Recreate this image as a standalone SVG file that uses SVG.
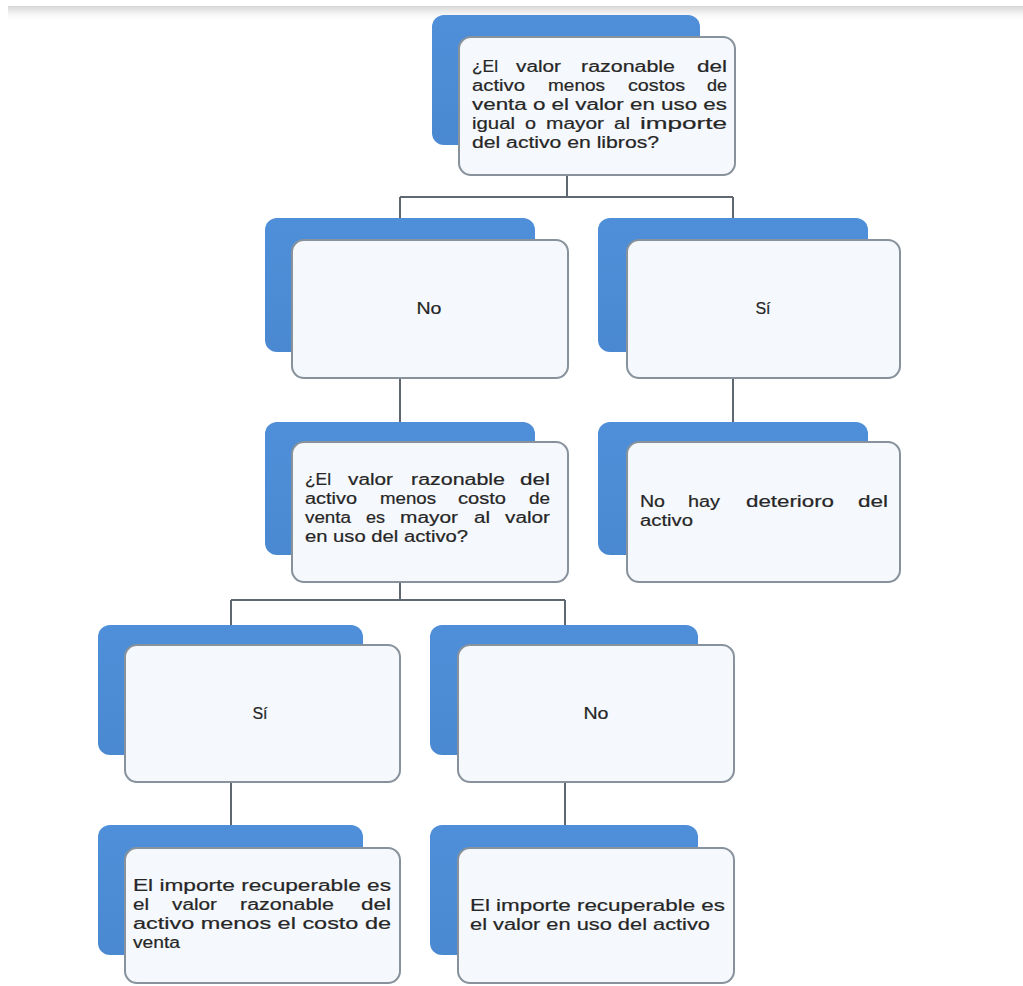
<svg xmlns="http://www.w3.org/2000/svg" width="1023" height="986" viewBox="0 0 1023 986">
<defs>
<linearGradient id="topband" x1="0" y1="0" x2="0" y2="1">
<stop offset="0" stop-color="#d6d6d6"/>
<stop offset="0.25" stop-color="#e6e6e6"/>
<stop offset="1" stop-color="#ffffff" stop-opacity="0"/>
</linearGradient>
<linearGradient id="blue" x1="0" y1="0" x2="0" y2="1">
<stop offset="0" stop-color="#4f8fd9"/>
<stop offset="1" stop-color="#4a89d2"/>
</linearGradient>
</defs>
<style>
.back{fill:url(#blue);}
.front{fill:#f5f8fc;stroke:#87929c;stroke-width:2;}
.conn{fill:none;stroke:#5f6870;stroke-width:2;}
text{font-family:"Liberation Sans",Arial,sans-serif;font-size:16px;fill:#262626;stroke:#262626;stroke-width:0.2;}
.c{text-anchor:middle;}
</style>
<rect x="0" y="0" width="1023" height="986" fill="#ffffff"/>
<rect x="8" y="6" width="1015" height="16" fill="url(#topband)"/>

<g id="connectors">
<path class="conn" d="M567 175 V197 M400 197 H733 M400 197 V218 M733 197 V218"/>
<path class="conn" d="M400 378 V422 M733 378 V422"/>
<path class="conn" d="M400 582 V600 M231 600 H565 M231 600 V625 M565 600 V625"/>
<path class="conn" d="M231 782 V825 M565 782 V825"/>
</g>

<g id="n1">
<rect class="back" x="432" y="15" width="268" height="130" rx="12"/>
<rect class="front" x="459" y="37" width="276" height="138" rx="12"/>
<text x="472" y="72" textLength="26" lengthAdjust="spacingAndGlyphs">¿El</text>
<text x="516" y="72" textLength="45" lengthAdjust="spacingAndGlyphs">valor</text>
<text x="581" y="72" textLength="94" lengthAdjust="spacingAndGlyphs">razonable</text>
<text x="697" y="72" textLength="30" lengthAdjust="spacingAndGlyphs">del</text>
<text x="472" y="91" textLength="53" lengthAdjust="spacingAndGlyphs">activo</text>
<text x="548" y="91" textLength="57" lengthAdjust="spacingAndGlyphs">menos</text>
<text x="628" y="91" textLength="57" lengthAdjust="spacingAndGlyphs">costos</text>
<text x="707" y="91" textLength="20" lengthAdjust="spacingAndGlyphs">de</text>
<text x="472" y="110" textLength="255" lengthAdjust="spacingAndGlyphs">venta o el valor en uso es</text>
<text x="472" y="129" textLength="43" lengthAdjust="spacingAndGlyphs">igual</text>
<text x="525" y="129" textLength="11" lengthAdjust="spacingAndGlyphs">o</text>
<text x="546" y="129" textLength="58" lengthAdjust="spacingAndGlyphs">mayor</text>
<text x="614" y="129" textLength="16" lengthAdjust="spacingAndGlyphs">al</text>
<text x="640" y="129" textLength="87" lengthAdjust="spacingAndGlyphs">importe</text>
<text x="472" y="148" textLength="187" lengthAdjust="spacingAndGlyphs">del activo en libros?</text>
</g>

<g id="n2">
<rect class="back" x="265" y="218" width="270" height="134" rx="12"/>
<rect class="front" x="292" y="240" width="276" height="138" rx="12"/>
<text class="c" x="429" y="314" textLength="25" lengthAdjust="spacingAndGlyphs">No</text>
</g>

<g id="n3">
<rect class="back" x="598" y="218" width="270" height="134" rx="12"/>
<rect class="front" x="627" y="240" width="273" height="138" rx="12"/>
<text class="c" x="763" y="314">Sí</text>
</g>

<g id="n4">
<rect class="back" x="265" y="422" width="270" height="133" rx="12"/>
<rect class="front" x="292" y="442" width="276" height="140" rx="12"/>
<text x="305" y="485" textLength="26" lengthAdjust="spacingAndGlyphs">¿El</text>
<text x="348" y="485" textLength="45" lengthAdjust="spacingAndGlyphs">valor</text>
<text x="411" y="485" textLength="94" lengthAdjust="spacingAndGlyphs">razonable</text>
<text x="520" y="485" textLength="30" lengthAdjust="spacingAndGlyphs">del</text>
<text x="305" y="504" textLength="52" lengthAdjust="spacingAndGlyphs">activo</text>
<text x="380" y="504" textLength="56" lengthAdjust="spacingAndGlyphs">menos</text>
<text x="458" y="504" textLength="48" lengthAdjust="spacingAndGlyphs">costo</text>
<text x="529" y="504" textLength="21" lengthAdjust="spacingAndGlyphs">de</text>
<text x="305" y="523" textLength="46" lengthAdjust="spacingAndGlyphs">venta</text>
<text x="366" y="523" textLength="19" lengthAdjust="spacingAndGlyphs">es</text>
<text x="400" y="523" textLength="58" lengthAdjust="spacingAndGlyphs">mayor</text>
<text x="474" y="523" textLength="16" lengthAdjust="spacingAndGlyphs">al</text>
<text x="505" y="523" textLength="45" lengthAdjust="spacingAndGlyphs">valor</text>
<text x="305" y="542" textLength="163" lengthAdjust="spacingAndGlyphs">en uso del activo?</text>
</g>

<g id="n5">
<rect class="back" x="598" y="422" width="270" height="133" rx="12"/>
<rect class="front" x="627" y="442" width="273" height="140" rx="12"/>
<text x="640" y="507" textLength="25" lengthAdjust="spacingAndGlyphs">No</text>
<text x="688" y="507" textLength="32" lengthAdjust="spacingAndGlyphs">hay</text>
<text x="746" y="507" textLength="88" lengthAdjust="spacingAndGlyphs">deterioro</text>
<text x="858" y="507" textLength="30" lengthAdjust="spacingAndGlyphs">del</text>
<text x="640" y="526" textLength="53" lengthAdjust="spacingAndGlyphs">activo</text>
</g>

<g id="n6">
<rect class="back" x="98" y="625" width="265" height="130" rx="12"/>
<rect class="front" x="125" y="645" width="275" height="137" rx="12"/>
<text class="c" x="260" y="719">Sí</text>
</g>

<g id="n7">
<rect class="back" x="430" y="625" width="268" height="130" rx="12"/>
<rect class="front" x="458" y="645" width="276" height="137" rx="12"/>
<text class="c" x="596" y="719" textLength="25" lengthAdjust="spacingAndGlyphs">No</text>
</g>

<g id="n8">
<rect class="back" x="98" y="825" width="265" height="130" rx="12"/>
<rect class="front" x="125" y="848" width="275" height="135" rx="12"/>
<text x="133" y="891" textLength="258" lengthAdjust="spacingAndGlyphs">El importe recuperable es</text>
<text x="133" y="910" textLength="16" lengthAdjust="spacingAndGlyphs">el</text>
<text x="172" y="910" textLength="45" lengthAdjust="spacingAndGlyphs">valor</text>
<text x="240" y="910" textLength="94" lengthAdjust="spacingAndGlyphs">razonable</text>
<text x="361" y="910" textLength="30" lengthAdjust="spacingAndGlyphs">del</text>
<text x="133" y="929" textLength="258" lengthAdjust="spacingAndGlyphs">activo menos el costo de</text>
<text x="133" y="948" textLength="47" lengthAdjust="spacingAndGlyphs">venta</text>
</g>

<g id="n9">
<rect class="back" x="430" y="825" width="268" height="130" rx="12"/>
<rect class="front" x="458" y="848" width="276" height="135" rx="12"/>
<text x="470" y="911" textLength="255" lengthAdjust="spacingAndGlyphs">El importe recuperable es</text>
<text x="470" y="930" textLength="240" lengthAdjust="spacingAndGlyphs">el valor en uso del activo</text>
</g>
</svg>
